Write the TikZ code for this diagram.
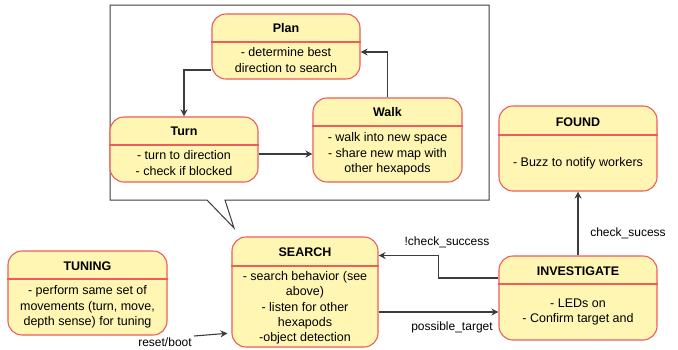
\documentclass[tikz,border=0pt]{standalone}
\usepackage{fontspec}
\setmainfont{Liberation Sans}
\usetikzlibrary{arrows.meta}
\definecolor{sfill}{RGB}{255,246,180}
\definecolor{sdraw}{RGB}{238,92,92}
\definecolor{lgray}{RGB}{60,60,60}
\tikzset{
  statebox/.style={draw=sdraw, fill=sfill, line width=1.1pt, rounded corners=14pt, inner sep=0pt},
  hline/.style={draw=sdraw, line width=1.1pt},
  ttl/.style={font=\fontsize{12.5}{15}\selectfont\bfseries, inner sep=0pt, align=center},
  bdy/.style={font=\fontsize{12.5}{15.7}\selectfont, inner sep=0pt, align=center},
  lbl/.style={font=\fontsize{12}{14}\selectfont, inner sep=0pt},
  arr/.style={draw=lgray, line width=1.1pt, -{Stealth[length=7pt,width=7pt]}},
  callout/.style={draw=lgray, line width=1pt, fill=white},
}
\begin{document}
\begin{tikzpicture}[x=1pt,y=-1pt]
\useasboundingbox (0,0) rectangle (678,349);
% callout
\draw[callout] (110,5) -- (489,5) -- (489,200) -- (225,200) -- (234,228) -- (207,200) -- (110,200) -- cycle;
% Plan
\node[statebox, minimum width=148pt, minimum height=65pt] (plan) at (286,46.5) {};
\draw[hline] (plan.west |- 0,42) -- (plan.east |- 0,42);
\node[ttl] (plant) at (286,28) {Plan};
\node[bdy] (planb) at (286,60) {- determine best\\direction to search};
% Turn
\node[statebox, minimum width=148pt, minimum height=65pt] (turn) at (184,149.5) {};
\draw[hline] (turn.west |- 0,145) -- (turn.east |- 0,145);
\node[ttl] (turnt) at (184,131) {Turn};
\node[bdy] (turnb) at (184,163) {- turn to direction\\- check if blocked};
% Walk
\node[statebox, minimum width=149pt, minimum height=84pt] (walk) at (387.5,140) {};
\draw[hline] (walk.west |- 0,126) -- (walk.east |- 0,126);
\node[ttl] (walkt) at (387.5,112) {Walk};
\node[bdy] (walkb) at (387.5,154) {- walk into new space\\- share new map with\\other hexapods};
% FOUND
\node[statebox, minimum width=158pt, minimum height=85pt] (found) at (578,148.5) {};
\draw[hline] (found.west |- 0,135) -- (found.east |- 0,135);
\node[ttl] (foundt) at (578,122) {FOUND};
\node[bdy] (foundb) at (578,163) {- Buzz to notify workers};
% INVESTIGATE
\node[statebox, minimum width=158pt, minimum height=84pt] (inv) at (578,298) {};
\draw[hline] (inv.west |- 0,284) -- (inv.east |- 0,284);
\node[ttl] (invt) at (578,271) {INVESTIGATE};
\node[bdy] (invb) at (578,312) {- LEDs on\\- Confirm target and};
% SEARCH
\node[statebox, minimum width=146pt, minimum height=110pt] (search) at (305,292) {};
\draw[hline] (search.west |- 0,266) -- (search.east |- 0,266);
\node[ttl] (searcht) at (305,252) {SEARCH};
\node[bdy, font=\fontsize{12.5}{15.3}\selectfont] (searchb) at (305,308) {- search behavior (see\\above)\\- listen for other\\hexapods\\-object detection};
% TUNING
\node[statebox, minimum width=159pt, minimum height=84pt] (tuning) at (87.5,293) {};
\draw[hline] (tuning.west |- 0,279) -- (tuning.east |- 0,279);
\node[ttl] (tuningt) at (87.5,266) {TUNING};
\node[bdy] (tuningb) at (87.5,307) {- perform same set of\\movements (turn, move,\\depth sense) for tuning};
% connectors
\draw[arr] ([yshift=-23.5pt]plan.west) -| (turn.north);
\draw[arr] (walk.north) |- ([yshift=-5.5pt]plan.east);
\draw[arr] ([yshift=-4.5pt]turn.east) -- ([yshift=-14pt]walk.west);
\draw[arr] (inv.north) -- (found.south);
\draw[arr] ([yshift=20pt]inv.west) -- ++(-60,0) |- ([yshift=36.5pt]search.east);
\draw[arr] ([yshift=-20pt]search.east) -- ([yshift=-14pt]inv.west);
\coordinate (rb) at (194,336);
\draw[arr, shorten >=4pt] (rb) -- ([yshift=-41pt]search.west);
% labels
\node[lbl] (l1) at (628,233) {check\_sucess};
\node[lbl] (l2) at (447,242) {!check\_success};
\node[lbl] (l3) at (452,327) {possible\_target};
\node[lbl] (l4) at (165,342) {reset/boot};
\end{tikzpicture}
\end{document}
